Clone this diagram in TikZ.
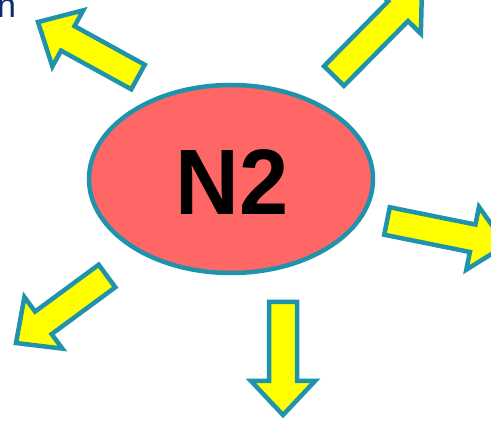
\documentclass[tikz,border=0pt]{standalone}
\usepackage{fontspec}
\usepackage{graphicx}
\setmainfont{Liberation Sans}
\usetikzlibrary{calc}
\definecolor{rimteal}{HTML}{1F93AB}
\definecolor{bodyred}{HTML}{FF6666}
\definecolor{arrowyellow}{HTML}{FFFF00}
\definecolor{navytext}{HTML}{0D2B6E}
\tikzset{
  arrowbody/.style={fill=arrowyellow, draw=rimteal, line width=4.5pt, line join=miter}
}
% block arrow from tail #1 to tip #2
\newcommand\blockarrow[2]{%
  \coordinate (ba-base) at ($(#2)!34pt!(#1)$);
  \filldraw[arrowbody]
    ($(#1)!14pt!90:(#2)$) -- ($(ba-base)!14pt!-90:(#1)$) -- ($(ba-base)!32pt!-90:(#1)$)
    -- (#2) -- ($(ba-base)!32pt!90:(#1)$) -- ($(ba-base)!14pt!90:(#1)$)
    -- ($(#1)!14pt!-90:(#2)$) -- cycle;
}
\begin{document}
\begin{tikzpicture}[x=1pt,y=-1pt]
  \useasboundingbox (0,0) rectangle (491,422);
  \clip (0,0) rectangle (491,422);
  \fill[white] (0,0) rectangle (491,422);

  % centre ellipse with its label
  \filldraw[fill=bodyred, draw=rimteal, line width=4.5pt] (231,179) ellipse [x radius=142, y radius=94];
  \node[anchor=base, inner sep=0pt, font=\bfseries\fontsize{93}{93}\selectfont] (label) at (232,215) {\scalebox{0.95}[1]{N2}};

  % arrows
  \coordinate (t1) at (138,77);  \coordinate (p1) at (38,22);
  \coordinate (t2) at (334,76);  \coordinate (p2) at (422,-13);
  \coordinate (t3) at (387,221); \coordinate (p3) at (506,245);
  \coordinate (t4) at (107,276); \coordinate (p4) at (16,343);
  \coordinate (t5) at (283,302); \coordinate (p5) at (283,415);
  \blockarrow{t1}{p1}
  \blockarrow{t2}{p2}
  \blockarrow{t3}{p3}
  \blockarrow{t4}{p4}
  \blockarrow{t5}{p5}

  % leftover text fragment at the corner
  \node[anchor=base west, inner sep=0pt, text=navytext, font=\fontsize{34}{34}\selectfont] (frag) at (-3,18) {n};
\end{tikzpicture}
\end{document}
